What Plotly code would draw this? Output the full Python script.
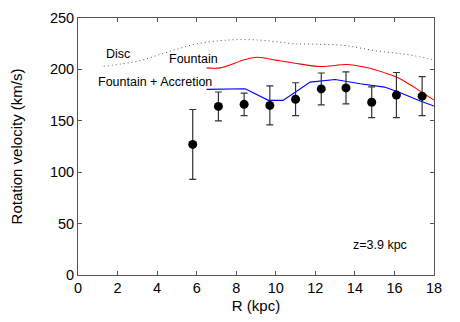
import plotly.graph_objects as go

# observed rotation velocities
r_obs = [5.8, 7.1, 8.4, 9.7, 11.0, 12.3, 13.55, 14.85, 16.1, 17.4]
v_obs = [127, 164, 166, 165, 171, 181, 182, 168, 175, 174]
v_err = [34, 14, 11, 19, 16, 15.5, 15.5, 15, 22, 19]

# model curves
r_disc = [1.3, 3.0, 4.4, 5.8, 7.2, 8.2, 9.2, 10.0, 10.9, 12.0, 13.4, 14.2, 15.1, 16.0, 16.8, 17.95]
v_disc = [203, 208, 216, 224, 228, 229, 228.5, 227, 225, 224.5, 223.4, 221, 218, 216, 214, 209.5]

r_fount = [6.5, 7.2, 8.45, 9.1, 10.0, 10.9, 12.25, 13.6, 14.4, 15.1, 16.1, 16.8, 17.3, 18.0]
v_fount = [201.5, 201.5, 209.6, 211.8, 209, 206.3, 202.8, 204.7, 202.5, 199.2, 192.5, 185, 178.9, 170.2]

r_acc = [6.5, 7.5, 8.45, 9.63, 10.36, 11.0, 11.74, 13.0, 14.27, 15.5, 16.3, 17.3, 18.0]
v_acc = [180.6, 180.8, 181.2, 169.9, 169.9, 178, 187.6, 190.2, 186, 182.8, 177.3, 169.2, 164.4]

fig = go.Figure()

fig.add_trace(go.Scatter(
    x=r_disc, y=v_disc, mode='lines',
    line=dict(color='#555555', width=1, dash='1px,3px', shape='spline'),
))
fig.add_trace(go.Scatter(
    x=r_fount, y=v_fount, mode='lines',
    line=dict(color='red', width=1.1, shape='spline'),
))
fig.add_trace(go.Scatter(
    x=r_acc, y=v_acc, mode='lines',
    line=dict(color='blue', width=1.1),
))
fig.add_trace(go.Scatter(
    x=r_obs, y=v_obs, mode='markers',
    marker=dict(color='black', size=9),
    error_y=dict(type='data', array=v_err, visible=True,
                 color='#333333', thickness=1.2, width=3.5),
))

font = 'Liberation Sans, Arial, sans-serif'
labels = [
    (2.72, 215, 'Disc'),
    (7.19, 210, 'Fountain'),
    (6.88, 188, 'Fountain + Accretion'),
    (16.75, 29, 'z=3.9 kpc'),
]
for x, y, t in labels:
    fig.add_annotation(x=x, y=y, text=t, showarrow=False, xanchor='right',
                       font=dict(family=font, size=12.5, color='black'))

axis_style = dict(
    showgrid=False, zeroline=False, showline=True, mirror='ticks',
    linecolor='#555555', linewidth=1, ticks='inside', ticklen=4,
    tickcolor='#555555', tickfont=dict(family=font, size=14.5, color='black'),
    automargin=False,
)

# page has an 8px body margin, so the figure is shrunk by that amount
fig.update_layout(
    width=452, height=314,
    margin=dict(l=70, r=26, t=10, b=47),
    plot_bgcolor='white', paper_bgcolor='white',
    font=dict(family=font, color='black'),
    showlegend=False,
    xaxis=dict(range=[0, 18], dtick=2,
               title=dict(text='R (kpc)', font=dict(family=font, size=15, color='black'), standoff=5),
               **axis_style),
    yaxis=dict(range=[0, 250], dtick=50,
               title=dict(text='Rotation velocity (km/s)', font=dict(family=font, size=15, color='black'), standoff=24),
               **axis_style),
)

fig.write_html("out.html")
